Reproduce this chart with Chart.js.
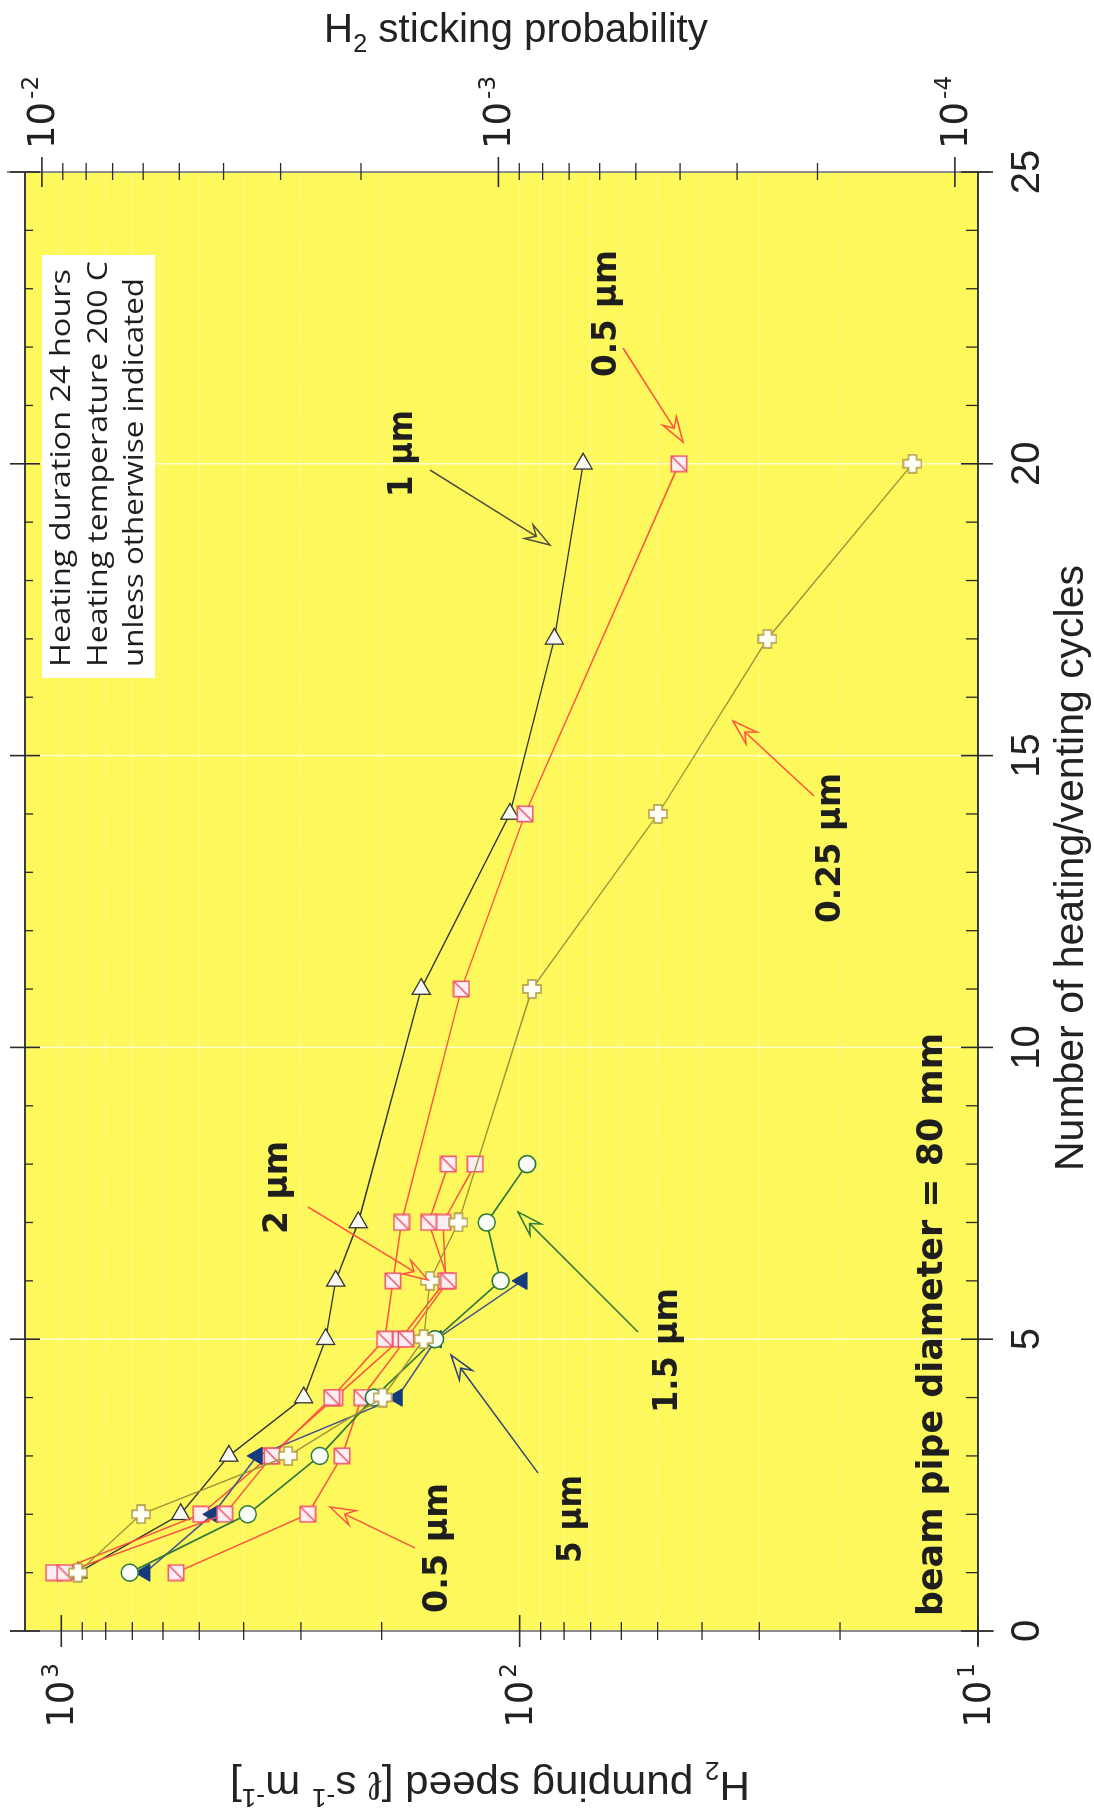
<!DOCTYPE html>
<html>
<head>
<meta charset="utf-8">
<script src="https://cdn.jsdelivr.net/npm/chart.js@4.4.1/dist/chart.umd.min.js"></script>
<style>
  html, body { margin: 0; padding: 0; background: #fff; overflow: hidden; width: 1094px; height: 1809px; }
  /* the chart is drawn upright (1809 x 1094) and turned a quarter turn, like the scanned page */
  #wrap { position: absolute; left: 0; top: 0; width: 1809px; height: 1094px;
          transform-origin: 0 0; transform: translate(0px, 1809px) rotate(-90deg); }
</style>
</head>
<body>
<div id="wrap"><canvas id="chart" width="1809" height="1094"></canvas></div>
<script>
// heating/venting cycle number and H2 pumping speed [l s-1 m-1] per film thickness
const cyc1um = [1, 2, 3, 4, 5, 6, 7, 11, 14, 17, 20];
const spd1um = [920, 549, 431, 296, 265, 252, 225, 164, 105, 84, 72.7];

const cyc05a = [1, 2, 3, 4, 5, 6, 7, 11, 14, 20];
const spd05a = [983, 440, 347, 257, 197, 189, 181, 134, 97.3, 44.9];

const cyc05b = [1, 2, 3, 4, 5, 6, 7, 8];
const spd05b = [562, 290, 244, 221, 177, 143, 158, 143];

const cyc2um = [1, 2, 3, 4, 5, 6, 7, 8];
const spd2um = [1039, 496, 351, 253, 182, 145, 147, 125];

const cyc025 = [1, 2, 3, 4, 5, 6, 7, 11, 14, 17, 20];
const spd025 = [920, 670, 320, 199, 162, 157, 136, 94, 49.9, 28.8, 13.9];

const cyc15 = [1, 2, 3, 4, 5, 6, 7, 8];
const spd15 = [709, 392, 273, 208, 153, 110, 118, 96.3];

const cyc5 = [1, 2, 3, 4, 5, 6];
const spd5 = [657, 467, 374, 185, 152, 98.8];

// axes
const cycleTicks = [0, 5, 10, 15, 20, 25];
const speedDecades = [10, 100, 1000];
const speedLabels = ['1', '2', '3'];
const stickDecades = [1e-4, 1e-3, 1e-2];
const stickLabels = ['-4', '-3', '-2'];

const PLOT_BG = '#FDF85C';
const RED = '#FF5440';

function pts(xs, ys) {
    return xs.map((x, i) => ({ x: x, y: ys[i] }));
}

function squareMark(diag) {
    const c = document.createElement('canvas');
    c.width = 18; c.height = 18;
    const g = c.getContext('2d');
    g.fillStyle = '#FCEFF3';
    g.fillRect(1, 1, 16, 16);
    g.strokeStyle = '#F0586C';
    g.lineWidth = 1.6;
    g.strokeRect(1.3, 1.3, 15.4, 15.4);
    if (diag) {
        g.beginPath();
        g.moveTo(16.5, 1.5);
        g.lineTo(1.5, 16.5);
        g.stroke();
    }
    return c;
}

function plusMark() {
    const c = document.createElement('canvas');
    c.width = 20; c.height = 20;
    const g = c.getContext('2d');
    const p = [[6, 1], [14, 1], [14, 6], [19, 6], [19, 14], [14, 14],
               [14, 19], [6, 19], [6, 14], [1, 14], [1, 6], [6, 6]];
    g.beginPath();
    p.forEach((q, i) => i ? g.lineTo(q[0], q[1]) : g.moveTo(q[0], q[1]));
    g.closePath();
    g.fillStyle = '#FFFFF6';
    g.fill();
    g.strokeStyle = '#B39C4C';
    g.lineWidth = 1.6;
    g.stroke();
    return c;
}

const halfSq = squareMark(true);
const plainSq = squareMark(false);
const plus = plusMark();

// text with sub/superscripts, optionally squeezed to a measured width
function rich(ctx, segs, x, y, o) {
    const small = Math.round(o.size * 0.62);
    const font = s => `${o.weight || 'normal'} ${s}px ${o.family}`;
    ctx.save();
    let total = 0;
    const w = segs.map(sg => {
        ctx.font = font(sg.sub || sg.sup ? small : o.size);
        const m = ctx.measureText(sg.t).width + (sg.gap || 0);
        total += m;
        return m;
    });
    const sx = o.width ? o.width / total : 1;
    ctx.translate(x, y);
    ctx.rotate(o.angle || 0);
    ctx.scale(sx, 1);
    let cx = o.align === 'center' ? -total / 2 : o.align === 'right' ? -total : 0;
    ctx.fillStyle = o.color || '#222';
    ctx.textAlign = 'left';
    ctx.textBaseline = 'alphabetic';
    segs.forEach((sg, i) => {
        ctx.font = font(sg.sub || sg.sup ? small : o.size);
        const dy = sg.sub ? o.size * 0.25 : sg.sup ? -o.size * 0.42 : 0;
        ctx.fillText(sg.t, cx + (sg.gap || 0), dy);
        cx += w[i];
    });
    ctx.restore();
}

function arrow(ctx, x1, y1, x2, y2, color) {
    const a = Math.atan2(y2 - y1, x2 - x1);
    const L = 25, H = 8;
    ctx.save();
    ctx.strokeStyle = color;
    ctx.lineWidth = 1.5;
    ctx.beginPath();
    ctx.moveTo(x1, y1);
    ctx.lineTo(x2 - Math.cos(a) * L * 0.6, y2 - Math.sin(a) * L * 0.6);
    ctx.stroke();
    ctx.translate(x2, y2);
    ctx.rotate(a);
    ctx.beginPath();
    ctx.moveTo(0, 0);
    ctx.lineTo(-L, -H);
    ctx.lineTo(-L * 0.65, 0);
    ctx.lineTo(-L, H);
    ctx.closePath();
    ctx.fillStyle = PLOT_BG;
    ctx.fill();
    ctx.stroke();
    ctx.restore();
}

function line(ctx, x1, y1, x2, y2) {
    ctx.beginPath();
    ctx.moveTo(x1, y1);
    ctx.lineTo(x2, y2);
    ctx.stroke();
}

const decorations = {
    id: 'decorations',
    beforeDatasetsDraw(chart) {
        const { ctx, chartArea: a, scales } = chart;
        ctx.save();
        ctx.fillStyle = PLOT_BG;
        ctx.fillRect(a.left, a.top, a.right - a.left, a.bottom - a.top);
        // faint dashed grid at every log tick of the pumping speed
        ctx.strokeStyle = 'rgba(255,255,255,0.45)';
        ctx.lineWidth = 1;
        ctx.setLineDash([5, 4]);
        speedDecades.forEach(d => {
            for (let k = 1; k <= 9; k++) {
                const v = d * k;
                if (v > 1200 || (d === 1000 && k > 1)) continue;
                const py = scales.y.getPixelForValue(v);
                line(ctx, a.left, py, a.right, py);
            }
        });
        ctx.setLineDash([]);
        ctx.strokeStyle = 'rgba(255,255,255,0.75)';
        ctx.lineWidth = 1.4;
        cycleTicks.slice(1, -1).forEach(c => {
            const px = scales.x.getPixelForValue(c);
            line(ctx, px, a.top, px, a.bottom);
        });
        ctx.restore();
    },
    afterDraw(chart) {
        const { ctx, chartArea: a, scales } = chart;
        const sx = scales.x, sy = scales.y, s2 = scales.y2;
        ctx.save();
        // frame
        ctx.lineWidth = 2;
        ctx.strokeStyle = '#8c8c8c';
        line(ctx, a.left, 10, a.left, 994);
        line(ctx, a.right, 7, a.right, 990);
        ctx.strokeStyle = '#3c3c3c';
        line(ctx, a.left - 14, a.bottom, a.right, a.bottom);
        line(ctx, a.left, a.top, a.right, a.top);

        // cycle ticks
        ctx.strokeStyle = '#2a2a2a';
        for (let c = 0; c <= 25; c++) {
            const px = sx.getPixelForValue(c);
            if (c % 5 === 0) {
                ctx.lineWidth = 1.6;
                line(ctx, px, a.bottom - 17, px, a.bottom + 15);
                line(ctx, px, a.top - 15, px, a.top + 15);
            } else {
                ctx.lineWidth = 1.3;
                line(ctx, px, a.bottom - 12, px, a.bottom);
                line(ctx, px, a.top, px, a.top + 8);
            }
        }
        // pumping speed ticks (left) and sticking probability ticks (right)
        speedDecades.forEach(d => {
            for (let k = 1; k <= 9; k++) {
                const v = d * k;
                if (v > 1200 || (d === 1000 && k > 1)) continue;
                const py = sy.getPixelForValue(v);
                ctx.lineWidth = k === 1 ? 1.6 : 1.3;
                if (k === 1) line(ctx, a.left - 16, py, a.left + 16, py);
                else line(ctx, a.left - 9, py, a.left + 9, py);
            }
        });
        stickDecades.forEach(d => {
            for (let k = 1; k <= 9; k++) {
                const v = d * k;
                if (v > s2.max || v < s2.min) continue;
                const py = s2.getPixelForValue(v);
                ctx.lineWidth = k === 1 ? 1.6 : 1.3;
                if (k === 1) line(ctx, a.right - 15, py, a.right + 15, py);
                else line(ctx, a.right - 8, py, a.right + 9, py);
            }
        });

        // tick labels
        const tickFont = { size: 37, family: '"DejaVu Sans"', color: '#222' };
        speedDecades.forEach((d, i) => {
            const py = sy.getPixelForValue(d);
            rich(ctx, [{ t: '10' }, { t: speedLabels[i], sup: true, gap: 3 }], 146, py + 12,
                 Object.assign({ align: 'right' }, tickFont));
        });
        stickDecades.forEach((d, i) => {
            const py = s2.getPixelForValue(d);
            rich(ctx, [{ t: '10' }, { t: stickLabels[i], sup: true, gap: 3 }], 1660, py + 12,
                 Object.assign({ align: 'left' }, tickFont));
        });
        cycleTicks.forEach(c => {
            rich(ctx, [{ t: String(c) }], sx.getPixelForValue(c), 1039,
                 { size: 40, family: '"Liberation Sans", Arial', align: 'center', color: '#222' });
        });

        // axis titles
        rich(ctx, [{ t: 'Number of heating/venting cycles' }], 941, 1083,
             { size: 40, family: '"Liberation Sans", Arial', align: 'center', width: 606 });
        rich(ctx, [{ t: 'H' }, { t: '2', sub: true }, { t: ' sticking probability' }], 1767, 516,
             { size: 40, family: '"Liberation Sans", Arial', align: 'center', width: 384, angle: Math.PI / 2 });
        rich(ctx, [{ t: 'H' }, { t: '2', sub: true }, { t: ' pumping speed [' }, { t: 'ℓ' }, { t: ' s' },
                   { t: '-1', sup: true }, { t: ' m' }, { t: '-1', sup: true }, { t: ']' }], 37, 490,
             { size: 40, family: '"Liberation Sans", Arial', align: 'center', width: 520, angle: -Math.PI / 2 });

        // note box
        ctx.fillStyle = '#ffffff';
        ctx.fillRect(1131, 42, 423, 113);
        const boxFont = { size: 28, family: '"Open Sans"', color: '#1e1e1e' };
        rich(ctx, [{ t: 'Heating duration 24 hours' }], 1142, 70, Object.assign({ width: 398 }, boxFont));
        rich(ctx, [{ t: 'Heating temperature 200 C' }], 1142, 107, Object.assign({ width: 406 }, boxFont));
        rich(ctx, [{ t: 'unless otherwise indicated' }], 1142, 143, Object.assign({ width: 389 }, boxFont));

        // thickness labels and arrows
        const bold = { size: 34, family: '"DejaVu Sans"', weight: 'bold', color: '#1e1e1e' };
        const labels = [
            ['1 µm', 1312, 412, 87], ['0.5 µm', 1432, 616, 127], ['0.25 µm', 886, 840, 150],
            ['2 µm', 575, 287, 93], ['1.5 µm', 396, 677, 125], ['5 µm', 246, 581, 88],
            ['0.5 µm', 196, 447, 130]
        ];
        labels.forEach(l => rich(ctx, [{ t: l[0] }], l[1], l[2], Object.assign({ width: l[3] }, bold)));
        rich(ctx, [{ t: 'beam pipe diameter = 80 mm' }], 193, 942,
             Object.assign({}, bold, { size: 36, width: 583 }));

        arrow(ctx, 1339, 430, 1264, 550, '#4f4f3c');
        arrow(ctx, 1461, 623, 1367, 683, RED);
        arrow(ctx, 1013, 814, 1088, 733, RED);
        arrow(ctx, 602, 308, 529, 428, RED);
        arrow(ctx, 477, 638, 597, 518, '#2f7a3a');
        arrow(ctx, 336, 538, 454, 451, '#2c3e78');
        arrow(ctx, 261, 415, 302, 330, RED);
        ctx.restore();
    }
};

new Chart(document.getElementById('chart'), {
    type: 'line',
    data: {
        datasets: [
            {
                label: '1 µm', data: pts(cyc1um, spd1um), order: 8,
                borderColor: '#333333', borderWidth: 1.4,
                pointStyle: 'triangle', rotation: 90, pointRadius: 10.5,
                pointBackgroundColor: '#FAFAF4', pointBorderColor: '#333333', pointBorderWidth: 1.3
            },
            {
                label: '2 µm', data: pts(cyc2um, spd2um), order: 7,
                borderColor: RED, borderWidth: 1.5, pointStyle: plainSq, pointRadius: 9
            },
            {
                label: '5 µm', data: pts(cyc5, spd5), order: 6,
                borderColor: '#44558C', borderWidth: 1.5,
                pointStyle: 'triangle', pointRadius: 10,
                pointBackgroundColor: '#163A7E', pointBorderColor: '#163A7E', pointBorderWidth: 1
            },
            {
                label: '0.5 µm (b)', data: pts(cyc05b, spd05b), order: 5,
                borderColor: RED, borderWidth: 1.5, pointStyle: halfSq, pointRadius: 9
            },
            {
                label: '0.5 µm (a)', data: pts(cyc05a, spd05a), order: 4,
                borderColor: RED, borderWidth: 1.5, pointStyle: halfSq, pointRadius: 9
            },
            {
                label: '1.5 µm', data: pts(cyc15, spd15), order: 3,
                borderColor: '#2E7A3A', borderWidth: 1.7,
                pointStyle: 'circle', pointRadius: 8.5,
                pointBackgroundColor: '#FAFCF6', pointBorderColor: '#2E7A3A', pointBorderWidth: 1.6
            },
            {
                label: '0.25 µm', data: pts(cyc025, spd025), order: 2,
                borderColor: '#A3923A', borderWidth: 1.4, pointStyle: plus, pointRadius: 10
            }
        ]
    },
    options: {
        responsive: false,
        animation: false,
        devicePixelRatio: 1,
        layout: { padding: { top: 25, left: 0, right: 0, bottom: 0 } },
        elements: { line: { tension: 0, fill: false } },
        plugins: {
            legend: { display: false },
            tooltip: { enabled: false }
        },
        scales: {
            x: {
                type: 'linear', position: 'bottom', min: 0, max: 25,
                ticks: { display: false }, grid: { display: false }, border: { display: false },
                afterFit: s => { s.height = 116; }
            },
            y: {
                type: 'logarithmic', position: 'left', min: 10, max: 1200,
                ticks: { display: false }, grid: { display: false }, border: { display: false },
                afterFit: s => { s.width = 178; }
            },
            y2: {
                type: 'logarithmic', position: 'right', min: 8.9e-5, max: 1.089e-2,
                ticks: { display: false }, grid: { display: false }, border: { display: false },
                afterFit: s => { s.width = 172; }
            }
        }
    },
    plugins: [decorations]
});
</script>
</body>
</html>
